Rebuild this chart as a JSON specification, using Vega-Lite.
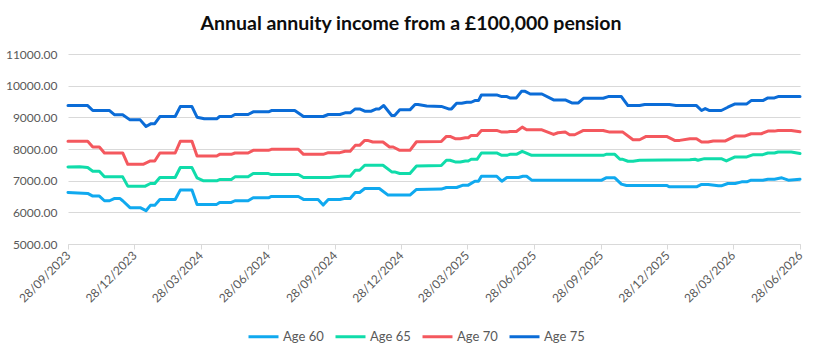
{
  "$schema": "https://vega.github.io/schema/vega-lite/v6.json",
  "width": 732,
  "height": 190,
  "autosize": {"type": "none"},
  "padding": {"left": 68, "top": 54, "right": 22, "bottom": 104},
  "background": "#ffffff",
  "title": {
    "text": "Annual annuity income from a £100,000 pension",
    "font": "Lato",
    "fontSize": 19.5,
    "fontWeight": "bold",
    "color": "#0d0d0d",
    "anchor": "middle",
    "dx": -23,
    "baseline": "alphabetic",
    "offset": -1
  },
  "config": {
    "view": {"stroke": null},
    "axis": {"labelFont": "Lato", "labelColor": "#595959", "labelFontSize": 12},
    "legend": {"labelFont": "Lato", "labelColor": "#595959", "labelFontSize": 13}
  },
  "data": {
    "values": [
      {"series": "Age 75", "date": "2023-09-28", "income": 9372},
      {"series": "Age 75", "date": "2023-10-25", "income": 9372},
      {"series": "Age 75", "date": "2023-11-01", "income": 9215},
      {"series": "Age 75", "date": "2023-11-24", "income": 9215},
      {"series": "Age 75", "date": "2023-12-01", "income": 9080},
      {"series": "Age 75", "date": "2023-12-12", "income": 9080},
      {"series": "Age 75", "date": "2023-12-22", "income": 8920},
      {"series": "Age 75", "date": "2024-01-05", "income": 8920},
      {"series": "Age 75", "date": "2024-01-13", "income": 8710},
      {"series": "Age 75", "date": "2024-01-20", "income": 8800},
      {"series": "Age 75", "date": "2024-01-25", "income": 8800},
      {"series": "Age 75", "date": "2024-02-01", "income": 9025},
      {"series": "Age 75", "date": "2024-02-22", "income": 9025},
      {"series": "Age 75", "date": "2024-02-29", "income": 9340},
      {"series": "Age 75", "date": "2024-03-16", "income": 9340},
      {"series": "Age 75", "date": "2024-03-23", "income": 9005},
      {"series": "Age 75", "date": "2024-04-02", "income": 8953},
      {"series": "Age 75", "date": "2024-04-19", "income": 8953},
      {"series": "Age 75", "date": "2024-04-23", "income": 9026},
      {"series": "Age 75", "date": "2024-05-09", "income": 9026},
      {"series": "Age 75", "date": "2024-05-14", "income": 9089},
      {"series": "Age 75", "date": "2024-06-01", "income": 9089},
      {"series": "Age 75", "date": "2024-06-08", "income": 9173},
      {"series": "Age 75", "date": "2024-06-29", "income": 9173},
      {"series": "Age 75", "date": "2024-07-03", "income": 9215},
      {"series": "Age 75", "date": "2024-08-04", "income": 9215},
      {"series": "Age 75", "date": "2024-08-16", "income": 9026},
      {"series": "Age 75", "date": "2024-09-12", "income": 9026},
      {"series": "Age 75", "date": "2024-09-19", "income": 9089},
      {"series": "Age 75", "date": "2024-10-05", "income": 9089},
      {"series": "Age 75", "date": "2024-10-12", "income": 9141},
      {"series": "Age 75", "date": "2024-10-19", "income": 9141},
      {"series": "Age 75", "date": "2024-10-26", "income": 9267},
      {"series": "Age 75", "date": "2024-11-01", "income": 9267},
      {"series": "Age 75", "date": "2024-11-08", "income": 9194},
      {"series": "Age 75", "date": "2024-11-17", "income": 9194},
      {"series": "Age 75", "date": "2024-11-24", "income": 9267},
      {"series": "Age 75", "date": "2024-11-28", "income": 9267},
      {"series": "Age 75", "date": "2024-12-04", "income": 9372},
      {"series": "Age 75", "date": "2024-12-15", "income": 9057},
      {"series": "Age 75", "date": "2024-12-19", "income": 9057},
      {"series": "Age 75", "date": "2024-12-26", "income": 9236},
      {"series": "Age 75", "date": "2025-01-09", "income": 9236},
      {"series": "Age 75", "date": "2025-01-16", "income": 9403},
      {"series": "Age 75", "date": "2025-01-20", "income": 9403},
      {"series": "Age 75", "date": "2025-02-01", "income": 9361},
      {"series": "Age 75", "date": "2025-02-21", "income": 9345},
      {"series": "Age 75", "date": "2025-03-03", "income": 9267},
      {"series": "Age 75", "date": "2025-03-07", "income": 9267},
      {"series": "Age 75", "date": "2025-03-14", "income": 9445},
      {"series": "Age 75", "date": "2025-03-21", "income": 9445},
      {"series": "Age 75", "date": "2025-03-28", "income": 9476},
      {"series": "Age 75", "date": "2025-04-03", "income": 9476},
      {"series": "Age 75", "date": "2025-04-08", "income": 9529},
      {"series": "Age 75", "date": "2025-04-13", "income": 9529},
      {"series": "Age 75", "date": "2025-04-17", "income": 9707},
      {"series": "Age 75", "date": "2025-05-08", "income": 9707},
      {"series": "Age 75", "date": "2025-05-15", "income": 9654},
      {"series": "Age 75", "date": "2025-05-22", "income": 9654},
      {"series": "Age 75", "date": "2025-05-26", "income": 9613},
      {"series": "Age 75", "date": "2025-06-04", "income": 9613},
      {"series": "Age 75", "date": "2025-06-11", "income": 9822},
      {"series": "Age 75", "date": "2025-06-16", "income": 9822},
      {"series": "Age 75", "date": "2025-06-23", "income": 9738},
      {"series": "Age 75", "date": "2025-07-09", "income": 9738},
      {"series": "Age 75", "date": "2025-07-25", "income": 9550},
      {"series": "Age 75", "date": "2025-08-10", "income": 9550},
      {"series": "Age 75", "date": "2025-08-19", "income": 9455},
      {"series": "Age 75", "date": "2025-08-28", "income": 9455},
      {"series": "Age 75", "date": "2025-09-04", "income": 9602},
      {"series": "Age 75", "date": "2025-10-01", "income": 9602},
      {"series": "Age 75", "date": "2025-10-08", "income": 9654},
      {"series": "Age 75", "date": "2025-10-26", "income": 9654},
      {"series": "Age 75", "date": "2025-11-04", "income": 9372},
      {"series": "Age 75", "date": "2025-11-20", "income": 9372},
      {"series": "Age 75", "date": "2025-11-27", "income": 9403},
      {"series": "Age 75", "date": "2025-12-31", "income": 9403},
      {"series": "Age 75", "date": "2026-01-09", "income": 9372},
      {"series": "Age 75", "date": "2026-02-06", "income": 9372},
      {"series": "Age 75", "date": "2026-02-13", "income": 9215},
      {"series": "Age 75", "date": "2026-02-18", "income": 9277},
      {"series": "Age 75", "date": "2026-02-24", "income": 9215},
      {"series": "Age 75", "date": "2026-03-12", "income": 9215},
      {"series": "Age 75", "date": "2026-03-21", "income": 9319},
      {"series": "Age 75", "date": "2026-03-31", "income": 9424},
      {"series": "Age 75", "date": "2026-04-16", "income": 9424},
      {"series": "Age 75", "date": "2026-04-22", "income": 9529},
      {"series": "Age 75", "date": "2026-05-08", "income": 9529},
      {"series": "Age 75", "date": "2026-05-15", "income": 9613},
      {"series": "Age 75", "date": "2026-05-24", "income": 9613},
      {"series": "Age 75", "date": "2026-05-29", "income": 9654},
      {"series": "Age 75", "date": "2026-06-28", "income": 9654},

      {"series": "Age 70", "date": "2023-09-28", "income": 8241},
      {"series": "Age 70", "date": "2023-10-25", "income": 8241},
      {"series": "Age 70", "date": "2023-11-01", "income": 8063},
      {"series": "Age 70", "date": "2023-11-10", "income": 8063},
      {"series": "Age 70", "date": "2023-11-17", "income": 7874},
      {"series": "Age 70", "date": "2023-12-12", "income": 7874},
      {"series": "Age 70", "date": "2023-12-19", "income": 7518},
      {"series": "Age 70", "date": "2024-01-09", "income": 7518},
      {"series": "Age 70", "date": "2024-01-19", "income": 7623},
      {"series": "Age 70", "date": "2024-01-25", "income": 7623},
      {"series": "Age 70", "date": "2024-02-01", "income": 7874},
      {"series": "Age 70", "date": "2024-02-22", "income": 7874},
      {"series": "Age 70", "date": "2024-02-29", "income": 8241},
      {"series": "Age 70", "date": "2024-03-16", "income": 8241},
      {"series": "Age 70", "date": "2024-03-23", "income": 7780},
      {"series": "Age 70", "date": "2024-04-19", "income": 7780},
      {"series": "Age 70", "date": "2024-04-23", "income": 7832},
      {"series": "Age 70", "date": "2024-05-09", "income": 7832},
      {"series": "Age 70", "date": "2024-05-14", "income": 7874},
      {"series": "Age 70", "date": "2024-06-01", "income": 7874},
      {"series": "Age 70", "date": "2024-06-08", "income": 7958},
      {"series": "Age 70", "date": "2024-06-29", "income": 7958},
      {"series": "Age 70", "date": "2024-07-03", "income": 7990},
      {"series": "Age 70", "date": "2024-08-09", "income": 7990},
      {"series": "Age 70", "date": "2024-08-16", "income": 7832},
      {"series": "Age 70", "date": "2024-09-12", "income": 7832},
      {"series": "Age 70", "date": "2024-09-19", "income": 7885},
      {"series": "Age 70", "date": "2024-10-05", "income": 7885},
      {"series": "Age 70", "date": "2024-10-12", "income": 7927},
      {"series": "Age 70", "date": "2024-10-19", "income": 7927},
      {"series": "Age 70", "date": "2024-10-26", "income": 8115},
      {"series": "Age 70", "date": "2024-11-01", "income": 8115},
      {"series": "Age 70", "date": "2024-11-08", "income": 8272},
      {"series": "Age 70", "date": "2024-11-12", "income": 8272},
      {"series": "Age 70", "date": "2024-11-19", "income": 8220},
      {"series": "Age 70", "date": "2024-12-03", "income": 8220},
      {"series": "Age 70", "date": "2024-12-12", "income": 8063},
      {"series": "Age 70", "date": "2024-12-17", "income": 8063},
      {"series": "Age 70", "date": "2024-12-26", "income": 7958},
      {"series": "Age 70", "date": "2025-01-09", "income": 7958},
      {"series": "Age 70", "date": "2025-01-18", "income": 8230},
      {"series": "Age 70", "date": "2025-02-21", "income": 8235},
      {"series": "Age 70", "date": "2025-02-28", "income": 8398},
      {"series": "Age 70", "date": "2025-03-05", "income": 8398},
      {"series": "Age 70", "date": "2025-03-12", "income": 8325},
      {"series": "Age 70", "date": "2025-03-19", "income": 8325},
      {"series": "Age 70", "date": "2025-03-26", "income": 8356},
      {"series": "Age 70", "date": "2025-03-30", "income": 8356},
      {"series": "Age 70", "date": "2025-04-03", "income": 8429},
      {"series": "Age 70", "date": "2025-04-11", "income": 8429},
      {"series": "Age 70", "date": "2025-04-17", "income": 8586},
      {"series": "Age 70", "date": "2025-05-08", "income": 8586},
      {"series": "Age 70", "date": "2025-05-15", "income": 8534},
      {"series": "Age 70", "date": "2025-05-22", "income": 8534},
      {"series": "Age 70", "date": "2025-05-26", "income": 8555},
      {"series": "Age 70", "date": "2025-06-04", "income": 8555},
      {"series": "Age 70", "date": "2025-06-12", "income": 8691},
      {"series": "Age 70", "date": "2025-06-18", "income": 8607},
      {"series": "Age 70", "date": "2025-07-09", "income": 8607},
      {"series": "Age 70", "date": "2025-07-25", "income": 8461},
      {"series": "Age 70", "date": "2025-07-31", "income": 8513},
      {"series": "Age 70", "date": "2025-08-10", "income": 8534},
      {"series": "Age 70", "date": "2025-08-16", "income": 8450},
      {"series": "Age 70", "date": "2025-08-23", "income": 8450},
      {"series": "Age 70", "date": "2025-09-04", "income": 8586},
      {"series": "Age 70", "date": "2025-10-01", "income": 8586},
      {"series": "Age 70", "date": "2025-10-10", "income": 8534},
      {"series": "Age 70", "date": "2025-10-28", "income": 8534},
      {"series": "Age 70", "date": "2025-11-11", "income": 8293},
      {"series": "Age 70", "date": "2025-11-20", "income": 8293},
      {"series": "Age 70", "date": "2025-11-29", "income": 8398},
      {"series": "Age 70", "date": "2025-12-27", "income": 8398},
      {"series": "Age 70", "date": "2026-01-07", "income": 8272},
      {"series": "Age 70", "date": "2026-01-14", "income": 8272},
      {"series": "Age 70", "date": "2026-01-28", "income": 8325},
      {"series": "Age 70", "date": "2026-02-06", "income": 8325},
      {"series": "Age 70", "date": "2026-02-13", "income": 8220},
      {"series": "Age 70", "date": "2026-02-22", "income": 8220},
      {"series": "Age 70", "date": "2026-03-01", "income": 8251},
      {"series": "Age 70", "date": "2026-03-17", "income": 8251},
      {"series": "Age 70", "date": "2026-03-31", "income": 8408},
      {"series": "Age 70", "date": "2026-04-13", "income": 8408},
      {"series": "Age 70", "date": "2026-04-22", "income": 8482},
      {"series": "Age 70", "date": "2026-05-06", "income": 8482},
      {"series": "Age 70", "date": "2026-05-15", "income": 8565},
      {"series": "Age 70", "date": "2026-05-24", "income": 8565},
      {"series": "Age 70", "date": "2026-05-29", "income": 8586},
      {"series": "Age 70", "date": "2026-06-16", "income": 8586},
      {"series": "Age 70", "date": "2026-06-28", "income": 8545},

      {"series": "Age 65", "date": "2023-09-28", "income": 7435},
      {"series": "Age 65", "date": "2023-10-14", "income": 7440},
      {"series": "Age 65", "date": "2023-10-25", "income": 7414},
      {"series": "Age 65", "date": "2023-11-01", "income": 7298},
      {"series": "Age 65", "date": "2023-11-10", "income": 7298},
      {"series": "Age 65", "date": "2023-11-17", "income": 7120},
      {"series": "Age 65", "date": "2023-12-12", "income": 7120},
      {"series": "Age 65", "date": "2023-12-19", "income": 6827},
      {"series": "Age 65", "date": "2024-01-12", "income": 6827},
      {"series": "Age 65", "date": "2024-01-19", "income": 6911},
      {"series": "Age 65", "date": "2024-01-25", "income": 6911},
      {"series": "Age 65", "date": "2024-02-01", "income": 7100},
      {"series": "Age 65", "date": "2024-02-22", "income": 7100},
      {"series": "Age 65", "date": "2024-02-29", "income": 7414},
      {"series": "Age 65", "date": "2024-03-16", "income": 7414},
      {"series": "Age 65", "date": "2024-03-23", "income": 7090},
      {"series": "Age 65", "date": "2024-04-01", "income": 6995},
      {"series": "Age 65", "date": "2024-04-19", "income": 6995},
      {"series": "Age 65", "date": "2024-04-23", "income": 7037},
      {"series": "Age 65", "date": "2024-05-09", "income": 7037},
      {"series": "Age 65", "date": "2024-05-14", "income": 7120},
      {"series": "Age 65", "date": "2024-06-01", "income": 7120},
      {"series": "Age 65", "date": "2024-06-08", "income": 7225},
      {"series": "Age 65", "date": "2024-06-29", "income": 7225},
      {"series": "Age 65", "date": "2024-07-03", "income": 7193},
      {"series": "Age 65", "date": "2024-08-09", "income": 7193},
      {"series": "Age 65", "date": "2024-08-16", "income": 7100},
      {"series": "Age 65", "date": "2024-09-21", "income": 7100},
      {"series": "Age 65", "date": "2024-10-05", "income": 7141},
      {"series": "Age 65", "date": "2024-10-19", "income": 7141},
      {"series": "Age 65", "date": "2024-10-26", "income": 7330},
      {"series": "Age 65", "date": "2024-11-01", "income": 7330},
      {"series": "Age 65", "date": "2024-11-08", "income": 7487},
      {"series": "Age 65", "date": "2024-12-03", "income": 7487},
      {"series": "Age 65", "date": "2024-12-15", "income": 7277},
      {"series": "Age 65", "date": "2024-12-19", "income": 7277},
      {"series": "Age 65", "date": "2024-12-26", "income": 7225},
      {"series": "Age 65", "date": "2025-01-09", "income": 7225},
      {"series": "Age 65", "date": "2025-01-18", "income": 7460},
      {"series": "Age 65", "date": "2025-02-21", "income": 7480},
      {"series": "Age 65", "date": "2025-02-28", "income": 7644},
      {"series": "Age 65", "date": "2025-03-05", "income": 7644},
      {"series": "Age 65", "date": "2025-03-12", "income": 7592},
      {"series": "Age 65", "date": "2025-03-19", "income": 7592},
      {"series": "Age 65", "date": "2025-03-26", "income": 7623},
      {"series": "Age 65", "date": "2025-03-30", "income": 7623},
      {"series": "Age 65", "date": "2025-04-03", "income": 7675},
      {"series": "Age 65", "date": "2025-04-11", "income": 7675},
      {"series": "Age 65", "date": "2025-04-17", "income": 7874},
      {"series": "Age 65", "date": "2025-05-08", "income": 7874},
      {"series": "Age 65", "date": "2025-05-15", "income": 7801},
      {"series": "Age 65", "date": "2025-05-22", "income": 7801},
      {"series": "Age 65", "date": "2025-05-26", "income": 7832},
      {"series": "Age 65", "date": "2025-06-04", "income": 7832},
      {"series": "Age 65", "date": "2025-06-12", "income": 7927},
      {"series": "Age 65", "date": "2025-06-25", "income": 7801},
      {"series": "Age 65", "date": "2025-10-01", "income": 7801},
      {"series": "Age 65", "date": "2025-10-05", "income": 7832},
      {"series": "Age 65", "date": "2025-10-17", "income": 7832},
      {"series": "Age 65", "date": "2025-10-24", "income": 7675},
      {"series": "Age 65", "date": "2025-10-28", "income": 7675},
      {"series": "Age 65", "date": "2025-11-04", "income": 7613},
      {"series": "Age 65", "date": "2025-11-11", "income": 7613},
      {"series": "Age 65", "date": "2025-11-20", "income": 7644},
      {"series": "Age 65", "date": "2026-01-28", "income": 7660},
      {"series": "Age 65", "date": "2026-02-04", "income": 7675},
      {"series": "Age 65", "date": "2026-02-08", "income": 7644},
      {"series": "Age 65", "date": "2026-02-17", "income": 7696},
      {"series": "Age 65", "date": "2026-03-12", "income": 7696},
      {"series": "Age 65", "date": "2026-03-19", "income": 7623},
      {"series": "Age 65", "date": "2026-03-31", "income": 7749},
      {"series": "Age 65", "date": "2026-04-16", "income": 7749},
      {"series": "Age 65", "date": "2026-04-25", "income": 7822},
      {"series": "Age 65", "date": "2026-05-08", "income": 7822},
      {"series": "Age 65", "date": "2026-05-15", "income": 7874},
      {"series": "Age 65", "date": "2026-05-24", "income": 7874},
      {"series": "Age 65", "date": "2026-05-29", "income": 7906},
      {"series": "Age 65", "date": "2026-06-16", "income": 7906},
      {"series": "Age 65", "date": "2026-06-28", "income": 7860},

      {"series": "Age 60", "date": "2023-09-28", "income": 6628},
      {"series": "Age 60", "date": "2023-10-25", "income": 6597},
      {"series": "Age 60", "date": "2023-11-01", "income": 6513},
      {"series": "Age 60", "date": "2023-11-10", "income": 6513},
      {"series": "Age 60", "date": "2023-11-17", "income": 6366},
      {"series": "Age 60", "date": "2023-11-24", "income": 6366},
      {"series": "Age 60", "date": "2023-12-01", "income": 6440},
      {"series": "Age 60", "date": "2023-12-08", "income": 6440},
      {"series": "Age 60", "date": "2023-12-12", "income": 6366},
      {"series": "Age 60", "date": "2023-12-22", "income": 6147},
      {"series": "Age 60", "date": "2024-01-05", "income": 6147},
      {"series": "Age 60", "date": "2024-01-13", "income": 6052},
      {"series": "Age 60", "date": "2024-01-19", "income": 6220},
      {"series": "Age 60", "date": "2024-01-25", "income": 6220},
      {"series": "Age 60", "date": "2024-02-01", "income": 6408},
      {"series": "Age 60", "date": "2024-02-22", "income": 6408},
      {"series": "Age 60", "date": "2024-02-29", "income": 6702},
      {"series": "Age 60", "date": "2024-03-16", "income": 6702},
      {"series": "Age 60", "date": "2024-03-23", "income": 6251},
      {"series": "Age 60", "date": "2024-04-19", "income": 6251},
      {"series": "Age 60", "date": "2024-04-23", "income": 6314},
      {"series": "Age 60", "date": "2024-05-09", "income": 6314},
      {"series": "Age 60", "date": "2024-05-14", "income": 6366},
      {"series": "Age 60", "date": "2024-06-01", "income": 6366},
      {"series": "Age 60", "date": "2024-06-08", "income": 6460},
      {"series": "Age 60", "date": "2024-06-29", "income": 6460},
      {"series": "Age 60", "date": "2024-07-03", "income": 6502},
      {"series": "Age 60", "date": "2024-08-09", "income": 6502},
      {"series": "Age 60", "date": "2024-08-16", "income": 6408},
      {"series": "Age 60", "date": "2024-09-05", "income": 6408},
      {"series": "Age 60", "date": "2024-09-12", "income": 6230},
      {"series": "Age 60", "date": "2024-09-19", "income": 6408},
      {"series": "Age 60", "date": "2024-10-05", "income": 6408},
      {"series": "Age 60", "date": "2024-10-12", "income": 6440},
      {"series": "Age 60", "date": "2024-10-19", "income": 6440},
      {"series": "Age 60", "date": "2024-10-26", "income": 6628},
      {"series": "Age 60", "date": "2024-11-01", "income": 6628},
      {"series": "Age 60", "date": "2024-11-08", "income": 6754},
      {"series": "Age 60", "date": "2024-11-28", "income": 6754},
      {"series": "Age 60", "date": "2024-12-10", "income": 6545},
      {"series": "Age 60", "date": "2025-01-09", "income": 6545},
      {"series": "Age 60", "date": "2025-01-18", "income": 6723},
      {"series": "Age 60", "date": "2025-02-21", "income": 6733},
      {"series": "Age 60", "date": "2025-02-28", "income": 6785},
      {"series": "Age 60", "date": "2025-03-14", "income": 6785},
      {"series": "Age 60", "date": "2025-03-23", "income": 6859},
      {"series": "Age 60", "date": "2025-03-30", "income": 6859},
      {"series": "Age 60", "date": "2025-04-08", "income": 6984},
      {"series": "Age 60", "date": "2025-04-13", "income": 6984},
      {"series": "Age 60", "date": "2025-04-17", "income": 7141},
      {"series": "Age 60", "date": "2025-05-08", "income": 7141},
      {"series": "Age 60", "date": "2025-05-15", "income": 6984},
      {"series": "Age 60", "date": "2025-05-22", "income": 7100},
      {"series": "Age 60", "date": "2025-06-07", "income": 7100},
      {"series": "Age 60", "date": "2025-06-13", "income": 7141},
      {"series": "Age 60", "date": "2025-06-18", "income": 7141},
      {"series": "Age 60", "date": "2025-06-25", "income": 7016},
      {"series": "Age 60", "date": "2025-09-29", "income": 7016},
      {"series": "Age 60", "date": "2025-10-05", "income": 7089},
      {"series": "Age 60", "date": "2025-10-17", "income": 7089},
      {"series": "Age 60", "date": "2025-10-26", "income": 6890},
      {"series": "Age 60", "date": "2025-11-02", "income": 6848},
      {"series": "Age 60", "date": "2025-12-27", "income": 6848},
      {"series": "Age 60", "date": "2025-12-31", "income": 6806},
      {"series": "Age 60", "date": "2026-02-06", "income": 6806},
      {"series": "Age 60", "date": "2026-02-13", "income": 6880},
      {"series": "Age 60", "date": "2026-02-22", "income": 6880},
      {"series": "Age 60", "date": "2026-03-08", "income": 6838},
      {"series": "Age 60", "date": "2026-03-12", "income": 6838},
      {"series": "Age 60", "date": "2026-03-21", "income": 6911},
      {"series": "Age 60", "date": "2026-03-31", "income": 6911},
      {"series": "Age 60", "date": "2026-04-09", "income": 6963},
      {"series": "Age 60", "date": "2026-04-16", "income": 6963},
      {"series": "Age 60", "date": "2026-04-22", "income": 7016},
      {"series": "Age 60", "date": "2026-05-08", "income": 7016},
      {"series": "Age 60", "date": "2026-05-15", "income": 7047},
      {"series": "Age 60", "date": "2026-05-24", "income": 7047},
      {"series": "Age 60", "date": "2026-06-03", "income": 7089},
      {"series": "Age 60", "date": "2026-06-12", "income": 7016},
      {"series": "Age 60", "date": "2026-06-28", "income": 7047}
    ]
  },
  "mark": {"type": "line", "strokeWidth": 3, "strokeJoin": "round", "strokeCap": "round"},
  "encoding": {
    "x": {
      "field": "date",
      "type": "temporal",
      "scale": {
        "type": "utc",
        "domain": [
          {"year": 2023, "month": 9, "date": 28, "utc": true},
          {"year": 2026, "month": 6, "date": 28, "utc": true}
        ]
      },
      "axis": {
        "title": null,
        "format": "%d/%m/%Y",
        "values": [
          {"year": 2023, "month": 9, "date": 28, "utc": true},
          {"year": 2023, "month": 12, "date": 28, "utc": true},
          {"year": 2024, "month": 3, "date": 28, "utc": true},
          {"year": 2024, "month": 6, "date": 28, "utc": true},
          {"year": 2024, "month": 9, "date": 28, "utc": true},
          {"year": 2024, "month": 12, "date": 28, "utc": true},
          {"year": 2025, "month": 3, "date": 28, "utc": true},
          {"year": 2025, "month": 6, "date": 28, "utc": true},
          {"year": 2025, "month": 9, "date": 28, "utc": true},
          {"year": 2025, "month": 12, "date": 28, "utc": true},
          {"year": 2026, "month": 3, "date": 28, "utc": true},
          {"year": 2026, "month": 6, "date": 28, "utc": true}
        ],
        "labelAngle": -45,
        "labelAlign": "right",
        "labelBaseline": "middle",
        "labelPadding": 4,
        "labelOverlap": false,
        "labelFlush": false,
        "grid": false,
        "domainColor": "#d9d9d9",
        "domainWidth": 1,
        "tickColor": "#d9d9d9",
        "tickSize": 5
      }
    },
    "y": {
      "field": "income",
      "type": "quantitative",
      "scale": {"domain": [5000, 11000], "nice": false, "zero": false},
      "axis": {
        "title": null,
        "values": [5000, 6000, 7000, 8000, 9000, 10000, 11000],
        "format": ".2f",
        "domain": false,
        "ticks": false,
        "grid": true,
        "gridColor": "#d9d9d9",
        "gridWidth": 1,
        "labelPadding": 11
      }
    },
    "color": {
      "field": "series",
      "type": "nominal",
      "scale": {
        "domain": ["Age 60", "Age 65", "Age 70", "Age 75"],
        "range": ["#10a9ef", "#10dcaa", "#f4585e", "#0b6cd7"]
      },
      "legend": {
        "title": null,
        "orient": "none",
        "direction": "horizontal",
        "legendX": 179,
        "legendY": 266,
        "symbolType": "stroke",
        "symbolSize": 900,
        "symbolStrokeWidth": 3,
        "labelOffset": 3,
        "columnPadding": 5
      }
    }
  }
}
